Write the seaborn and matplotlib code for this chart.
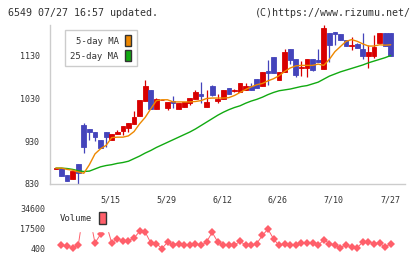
import numpy as np
import pandas as pd
import matplotlib
matplotlib.use('Agg')
import matplotlib.pyplot as plt
import seaborn as sns
from matplotlib.patches import Patch

# 4/28 ~ 7/27 (index -1 .. 59)
day = list(range(-1, 60))

op = [866, 867, 851, 842, 877, 967, 959, 952, 933, 952,
      933, 946, 954, 960, 970, 989, 1024, 1049, 1004, 1025,
      1007, 1022, 1005, 1010, 1018, 1028, 1040, 1010, 1057, 1022,
      1028, 1053, 1047, 1045, 1049, 1059, 1074, 1057, 1092, 1125,
      1071, 1091, 1143, 1121, 1100, 1100, 1121, 1119, 1098, 1182,
      1184, 1180, 1166, 1152, 1156, 1143, 1129, 1127, 1157, 1182, 1182]
hi = [867, 867, 851, 860, 877, 973, 959, 952, 933, 952,
      947, 956, 964, 972, 999, 1026, 1073, 1049, 1030, 1026,
      1021, 1035, 1018, 1020, 1031, 1049, 1068, 1048, 1061, 1040,
      1049, 1053, 1051, 1066, 1066, 1065, 1074, 1090, 1118, 1125,
      1091, 1143, 1143, 1121, 1117, 1121, 1121, 1143, 1201, 1182,
      1184, 1180, 1166, 1172, 1159, 1182, 1153, 1176, 1182, 1182, 1182]
lo = [866, 849, 838, 842, 830, 903, 932, 931, 913, 917,
      933, 946, 943, 952, 970, 989, 1024, 1004, 1004, 1025,
      1003, 1008, 1005, 1010, 1014, 1028, 1019, 1010, 1034, 1018,
      1028, 1040, 1045, 1045, 1049, 1049, 1053, 1057, 1061, 1088,
      1071, 1091, 1110, 1080, 1082, 1080, 1092, 1113, 1098, 1115,
      1154, 1164, 1150, 1141, 1147, 1121, 1101, 1123, 1157, 1150, 1129]
cl = [867, 849, 838, 860, 856, 917, 952, 940, 913, 939,
      947, 952, 964, 972, 985, 1026, 1059, 1004, 1028, 1026,
      1020, 1018, 1018, 1020, 1031, 1044, 1034, 1021, 1038, 1028,
      1049, 1040, 1049, 1065, 1057, 1049, 1053, 1090, 1088, 1088,
      1091, 1137, 1119, 1083, 1103, 1121, 1096, 1113, 1192, 1154,
      1178, 1164, 1150, 1154, 1147, 1129, 1137, 1149, 1182, 1150, 1129]

ma5 = [867, 867, 864, 862, 858, 855, 875, 900, 912, 920,
       938, 939, 939, 942, 952, 970, 985, 1005, 1024, 1026,
       1026, 1021, 1021, 1021, 1021, 1022, 1024, 1029, 1030, 1030,
       1030, 1031, 1036, 1043, 1050, 1056, 1061, 1064, 1070, 1075,
       1082, 1092, 1100, 1105, 1106, 1106, 1106, 1109, 1106, 1120,
       1138, 1150, 1162, 1166, 1162, 1156, 1151, 1151, 1154, 1153, 1154]
ma25 = [867, 867, 866, 864, 861, 859, 860, 865, 870, 873,
        875, 878, 880, 883, 889, 895, 902, 908, 915, 921,
        927, 933, 939, 945, 951, 958, 966, 974, 982, 990,
        997, 1003, 1008, 1012, 1018, 1023, 1027, 1032, 1038, 1043,
        1047, 1049, 1051, 1054, 1057, 1059, 1063, 1067, 1074, 1081,
        1086, 1091, 1095, 1099, 1103, 1107, 1112, 1116, 1120, 1124, 1129]

vol = [np.nan, 3000, 2400, 1000, 3000, 34600, 30000, 5200, 12700, 22000,
       5200, 8700, 7200, 7200, 9500, 15200, 14700, 5200, 4700, 400,
       5800, 3800, 4700, 3800, 3250, 4700, 3000, 6100, 14400, 6100,
       3000, 3800, 3250, 6700, 3250, 3000, 4700, 11800, 17200, 8700,
       3000, 4700, 3000, 3800, 5200, 5200, 5200, 3000, 8100, 4700,
       3250, 1000, 3800, 1500, 1000, 6100, 6100, 4700, 5200, 1500, 4700]

date_labels = ['5/15', '5/29', '6/12', '6/26', '7/10', '7/27']
date_pos = [7, 17, 27, 37, 47, 57.2]
price_ticks = [830, 930, 1030, 1130]
vol_ticks = [400, 17500, 34600]

df = pd.DataFrame({'day': day, 'open': op, 'high': hi, 'low': lo,
                   'close': cl, 'ma5': ma5, 'ma25': ma25, 'vol': vol})

RED = '#d80000'
BLUE = '#4444bb'
ORANGE = '#ee8800'
GREEN = '#11aa11'
VOLC = '#ff5f6a'
GRAY = '#cccccc'
TXT = '#333333'

sns.set_style('white')
plt.rcParams['font.family'] = ['DejaVu Sans Mono', 'DejaVu Sans']

fig = plt.figure(figsize=(4.2, 2.59), dpi=100)
ax = fig.add_axes([50/420, 75/259, 355/420, 159/259])
axv = fig.add_axes([50/420, 10.5/259, 355/420, 39.5/259])

# 캔들
up = df['close'] >= df['open']
colors = np.where(up, RED, BLUE)
ax.vlines(df['day'], df['low'], df['high'], colors=colors, linewidth=0.9, zorder=2)
ax.bar(df['day'], df['close'] - df['open'], bottom=df['open'], width=0.85,
       color=colors, edgecolor=colors, linewidth=0.6, zorder=3)

# 이동평균
sns.lineplot(data=df, x='day', y='ma25', color=GREEN, linewidth=1.0, ax=ax, zorder=4)
sns.lineplot(data=df, x='day', y='ma5', color=ORANGE, linewidth=1.0, ax=ax, zorder=4)

ax.set_xlim(-2.06, 61.56)
ax.set_ylim(830, 1200)
ax.set_xlabel('')
ax.set_ylabel('')
for s in ['top', 'right']:
    ax.spines[s].set_visible(False)
for s in ['left', 'bottom']:
    ax.spines[s].set_color(GRAY)
    ax.spines[s].set_linewidth(1.0)

ax.set_yticks(price_ticks)
ax.set_yticklabels([str(v) for v in price_ticks])
ax.set_xticks(np.linspace(-2.06, 61.56, 12))
ax.set_xticklabels([])
ax.set_xticks(date_pos, date_labels, minor=True)
ax.tick_params(axis='both', which='major', direction='inout', length=6,
               width=1.0, color=GRAY, labelsize=6, labelcolor=TXT)
ax.tick_params(axis='y', which='major', pad=4.5)
ax.tick_params(axis='x', which='minor', length=0, pad=8, labelsize=6, labelcolor=TXT)
for t in ax.get_xticklabels(minor=True):
    t.set_horizontalalignment('left')

leg = ax.legend(handles=[Patch(facecolor=ORANGE, edgecolor='#333333', linewidth=1.0, label='5-day MA'),
                         Patch(facecolor=GREEN, edgecolor='#333333', linewidth=1.0, label='25-day MA')],
                loc='upper left', bbox_to_anchor=(15/355, 1 - 5/159), borderaxespad=0,
                markerfirst=False, fontsize=6.5, handlelength=0.7, handleheight=1.45,
                handletextpad=0.7, labelspacing=0.45, borderpad=0.6,
                fancybox=False, framealpha=1, edgecolor=GRAY)
for t in leg.get_texts():
    t.set_color(TXT)

# 거래량
sns.lineplot(data=df, x='day', y='vol', color=VOLC, linewidth=0.7, marker='D',
             markersize=4.2, markeredgewidth=0, ax=axv, clip_on=False)
axv.set_xlim(-2.06, 61.56)
axv.set_ylim(400, 34600)
axv.set_xlabel('')
axv.set_ylabel('')
sns.despine(ax=axv, left=True, bottom=True)
axv.set_xticks([])
axv.set_yticks(vol_ticks)
axv.set_yticklabels([str(v) for v in vol_ticks])
axv.tick_params(axis='y', length=0, pad=3.5, labelsize=6, labelcolor=TXT)

vleg = axv.legend(handles=[Patch(facecolor=VOLC, edgecolor='#333333', linewidth=1.0, label='Volume')],
                  loc='upper left', bbox_to_anchor=(52/420, 1 - 204/259),
                  bbox_transform=fig.transFigure, borderaxespad=0,
                  markerfirst=False, fontsize=6.5, handlelength=0.75, handleheight=1.65,
                  handletextpad=0.8, borderpad=0.85, fancybox=False, framealpha=1,
                  edgecolor='white')
vleg.set_zorder(10)
for t in vleg.get_texts():
    t.set_color(TXT)

fig.text(8/420, 1 - 12.5/259, '6549 07/27 16:57 updated.', fontsize=7.2,
         color=TXT, ha='left', va='center')
fig.text(411/420, 1 - 12.5/259, '(C)https://www.rizumu.net/', fontsize=7.2,
         color=TXT, ha='right', va='center')

fig.savefig('out.png', dpi=100)
